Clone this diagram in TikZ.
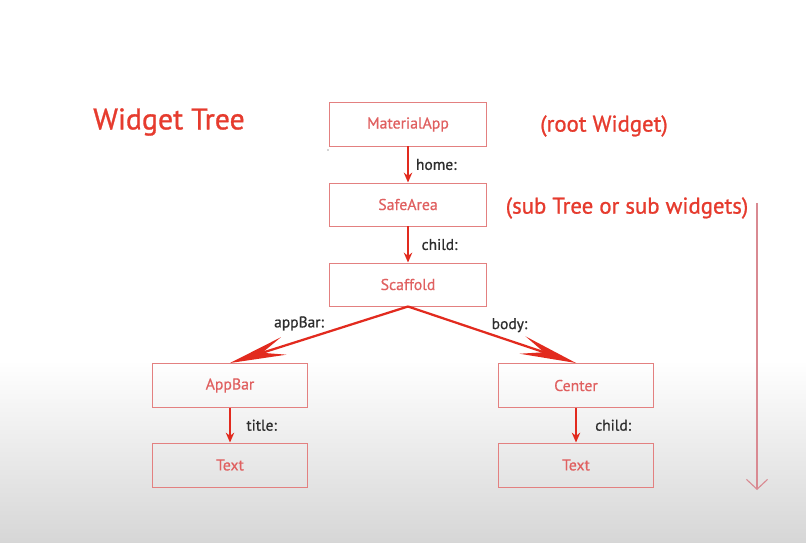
\documentclass[tikz,border=0pt]{standalone}
\usepackage{fontspec}
\setmainfont{PT Sans}
\usepackage{tikz}
\usetikzlibrary{arrows.meta}
\usetikzlibrary{positioning}
\definecolor{treeRed}{HTML}{E63B2E}
\definecolor{boxRed}{HTML}{E38080}
\definecolor{widgetRed}{HTML}{E06060}
\definecolor{edgeRed}{HTML}{E22A1E}
\definecolor{noteRed}{HTML}{D98A92}
\definecolor{slotGray}{HTML}{2E2E2E}

\tikzset{
  widget/.style={draw=boxRed, line width=0.7pt, minimum width=3.9cm,
    minimum height=1.075cm, inner sep=0pt, text=widgetRed,
    font=\fontsize{11.2}{13}\selectfont\addfontfeature{FakeBold=0.5}},
  leaf/.style={widget, minimum width=3.85cm, minimum height=1.1cm},
  child edge/.style={draw=edgeRed, line width=1.4pt,
    -{Stealth[length=7pt,width=6pt]}},
  branch edge/.style={draw=edgeRed, line width=1.6pt,
    -{Stealth[length=40pt,width=13pt,inset=16pt]}},
  slot/.style={text=slotGray, inner sep=2pt,
    font=\fontsize{11}{13}\selectfont\addfontfeature{FakeBold=0.8}},
  note/.style={text=treeRed, inner sep=0pt,
    font=\fontsize{16.2}{20}\selectfont\addfontfeature{FakeBold=1}},
}

\begin{document}
\begin{tikzpicture}[x=0.025cm,y=-0.025cm]
  %% background
  \useasboundingbox (0,0) rectangle (806,543);
  \fill[white] (0,0) rectangle (806,361);
  \shade[top color=white, bottom color=black!16] (0,360) rectangle (806,543);

  %% headings
  \node[note, font=\fontsize{21.2}{25}\selectfont\addfontfeature{FakeBold=1}] (title) at (169,122) {Widget Tree};
  \node[note] (rootnote) at (604,126) {(root Widget)};
  \node[note] (subnote) at (627,208) {(sub Tree or sub widgets)};
  \fill[black!70] (328,150) circle (0.7);

  %% tree
  \node[widget] (app) at (408,124.5) {MaterialApp};
  \node[widget] (safe) at (408,204.5) {SafeArea};
  \node[widget] (scaffold) at (408,284.5) {Scaffold};

  \node[leaf] (appbar) at (230,385.5) {AppBar};
  \node[leaf] (textL) at (230,465) {Text};
  \node[leaf] (center) at (576,385.5) {Center};
  \node[leaf] (textR) at (576,465) {Text};

  %% edges
  \draw[child edge] (app) -- node[slot, right=3pt] {home:} (safe);
  \draw[child edge] (safe) -- node[slot, right=7pt] {child:} (scaffold);
  \draw[branch edge] (scaffold.south) -- node[slot, pos=0.3, left=19pt] {appBar:} (appbar.north);
  \draw[branch edge] (scaffold.south) -- node[slot, pos=0.5, above right=-1pt and -3pt] {body:} (center.north);
  \draw[child edge] (appbar) -- node[slot, right=9pt] {title:} (textL);
  \draw[child edge] (center) -- node[slot, right=11pt] {child:} (textR);

  %% direction
  \coordinate (down top) at (757,203);
  \coordinate (down end) at (757,490);
  \draw[noteRed, line width=0.8pt, -{Straight Barb[length=7pt,width=15pt]}] (down top) -- (down end);
\end{tikzpicture}
\end{document}
